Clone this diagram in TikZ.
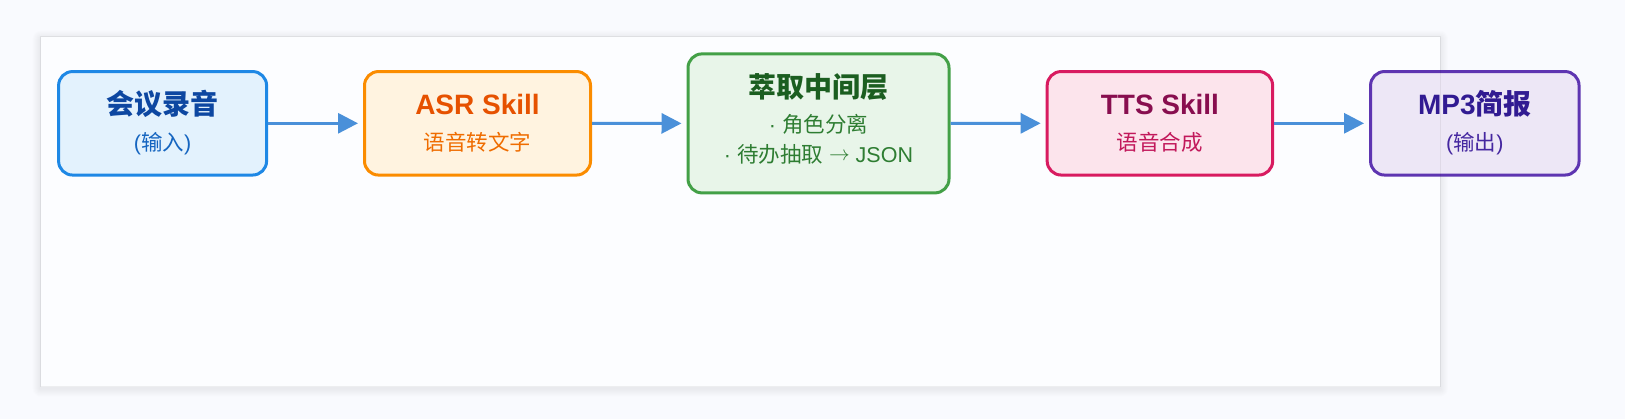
\documentclass[tikz,border=0pt]{standalone}
\usepackage{fontspec}
\setmainfont{Liberation Sans}
\newfontfamily\cjk{Noto Sans CJK SC}
\usetikzlibrary{arrows.meta}
\definecolor{bgc}{HTML}{F9FAFE}
\definecolor{panelc}{HTML}{FCFDFF}
\definecolor{arrc}{HTML}{4A90D9}
\definecolor{bluebd}{HTML}{1E88E5}\definecolor{bluefl}{HTML}{E3F2FD}
\definecolor{bluet}{HTML}{0D47A1}\definecolor{blues}{HTML}{1565C0}
\definecolor{orbd}{HTML}{FB8C00}\definecolor{orfl}{HTML}{FFF3E0}
\definecolor{ort}{HTML}{E65100}\definecolor{ors}{HTML}{EF6C00}
\definecolor{grbd}{HTML}{43A047}\definecolor{grfl}{HTML}{E8F5E9}
\definecolor{grt}{HTML}{1B5E20}\definecolor{grs}{HTML}{2E7D32}
\definecolor{pkbd}{HTML}{D81B60}\definecolor{pkfl}{HTML}{FCE4EC}
\definecolor{pkt}{HTML}{880E4F}\definecolor{pks}{HTML}{C2185B}
\definecolor{ppbd}{HTML}{5E35B1}\definecolor{ppfl}{HTML}{EDE7F6}
\definecolor{ppt}{HTML}{311B92}\definecolor{pps}{HTML}{4527A0}
\tikzset{
  stagebox/.style={draw, line width=3pt, rounded corners=14pt, inner sep=0pt,
    minimum height=103.5pt},
  titletext/.style={anchor=base, inner sep=0pt, font=\fontsize{28}{31}\selectfont\bfseries},
  subtext/.style={anchor=base, inner sep=0pt, font=\fontsize{21.5}{25}\selectfont},
  flowarrow/.style={draw=arrc, line width=3pt, -{Triangle[length=20pt,width=20pt]}, shorten >=5pt}
}
\begin{document}
\begin{tikzpicture}[x=1pt,y=-1pt]
\useasboundingbox[fill=bgc] (0,0) rectangle (1625,419);
% panel shadow
\foreach \i in {1,...,8}{
  \fill[black, opacity=0.006, rounded corners=\i pt] (40.7-\i,36.7-\i+2) rectangle (1440+\i,386.7+\i+2);
}
\fill[panelc] (40.7,36.7) rectangle (1440,386.7);
% boxes
\node[stagebox, draw=bluebd, fill=bluefl, minimum width=208pt] (b1) at (162.6,123.3) {};
\node[stagebox, draw=orbd, fill=orfl, minimum width=226pt] (b2) at (477.5,123.3) {};
\node[stagebox, draw=grbd, fill=grfl, minimum width=261pt, minimum height=139pt] (b3) at (818.5,123.4) {};
\node[stagebox, draw=pkbd, fill=pkfl, minimum width=225.5pt] (b4) at (1159.9,123.3) {};
\node[stagebox, draw=ppbd, fill=ppfl, minimum width=208.5pt] (b5) at (1474.8,123.3) {};
% panel edge on top
\draw[black, opacity=0.06, line width=1pt] (40.7,36.7) rectangle (1440,386.7);
% texts
\node[titletext, text=bluet] (t1) at (162.6,115) {\cjk 会议录音};
\node[subtext, text=blues] (s1) at (162.6,150.5) {({\cjk 输入})};
\node[titletext, text=ort] (t2) at (477.5,115) {ASR Skill};
\node[subtext, text=ors] (s2) at (477.5,150.5) {\cjk 语音转文字};
\node[titletext, text=grt] (t3) at (818.5,98) {\cjk 萃取中间层};
\node[subtext, text=grs] (s3a) at (818.5,133) {· {\cjk 角色分离}};
\node[subtext, text=grs] (s3b) at (818.5,162.5) {· {\cjk 待办抽取} \raisebox{1.5pt}{$\rightarrow$} JSON};
\node[titletext, text=pkt] (t4) at (1159.9,115) {TTS Skill};
\node[subtext, text=pks] (s4) at (1159.9,150.5) {\cjk 语音合成};
\node[titletext, text=ppt] (t5) at (1474.8,115) {MP3{\cjk 简报}};
\node[subtext, text=pps] (s5) at (1474.8,150.5) {({\cjk 输出})};
% arrows
\draw[flowarrow] (b1.east) -- (b2.west);
\draw[flowarrow] (b2.east) -- (b3.west);
\draw[flowarrow] (b3.east) -- (b4.west);
\draw[flowarrow] (b4.east) -- (b5.west);
\end{tikzpicture}
\end{document}
